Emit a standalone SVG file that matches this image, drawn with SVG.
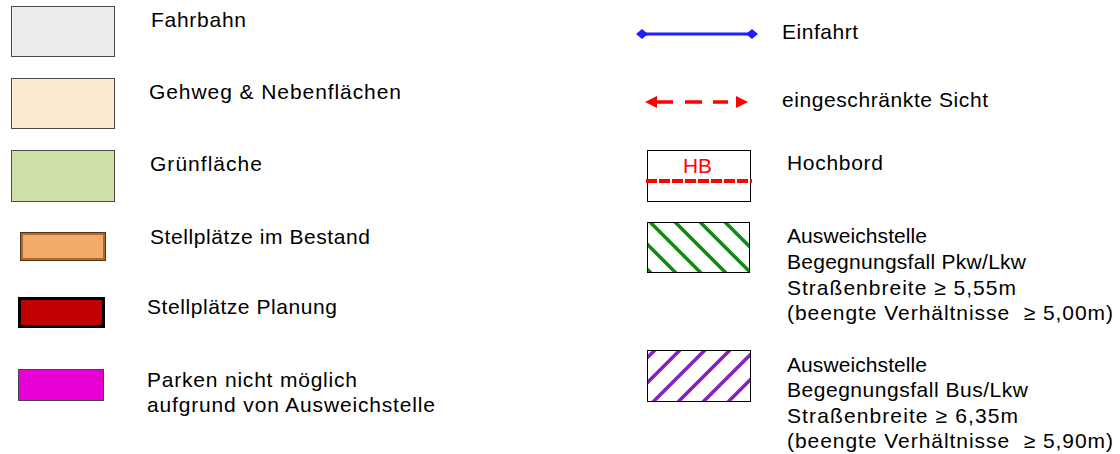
<svg xmlns="http://www.w3.org/2000/svg" width="1120" height="454" viewBox="0 0 1120 454">
<style>
text{font-family:"Liberation Sans",Arial,sans-serif;font-size:21px;fill:#000;white-space:pre}
.box{stroke:#4a4a4a;stroke-width:1}
.hatchG{stroke:#118a11;stroke-width:3.5;fill:none}
.hatchP{stroke:#8420c0;stroke-width:3.5;fill:none}
</style>
<defs>
<clipPath id="clipG"><rect x="647" y="222" width="103" height="51"/></clipPath>
<clipPath id="clipP"><rect x="647" y="350" width="104" height="52"/></clipPath>
</defs>
<rect width="1120" height="454" fill="#fff"/>

<g id="fahrbahn">
<rect class="box" x="11.5" y="6.5" width="103" height="50" fill="#ececec"/>
<text x="151" y="27" textLength="95" lengthAdjust="spacing">Fahrbahn</text>
</g>
<g id="gehweg">
<rect class="box" x="11.5" y="78.5" width="103" height="50" fill="#fbe9d2"/>
<text x="149" y="99" textLength="252" lengthAdjust="spacing">Gehweg &amp; Nebenflächen</text>
</g>
<g id="gruenflaeche">
<rect class="box" x="11.5" y="150.5" width="103" height="51" fill="#cfe1a8"/>
<text x="150" y="171" textLength="112" lengthAdjust="spacing">Grünfläche</text>
</g>
<g id="stellplaetze-bestand">
<rect x="20.5" y="232.5" width="85" height="28" fill="#f2ab68" stroke="#4f3519" stroke-width="1"/>
<rect x="22" y="234" width="82" height="25" fill="none" stroke="#b0692c" stroke-width="2"/>
<text x="150" y="244" textLength="220" lengthAdjust="spacing">Stellplätze im Bestand</text>
</g>
<g id="stellplaetze-planung">
<rect x="19.5" y="298.5" width="84" height="28" fill="#c00000" stroke="#000" stroke-width="3"/>
<text x="147" y="314" textLength="190" lengthAdjust="spacing">Stellplätze Planung</text>
</g>
<g id="parken-nicht-moeglich">
<rect x="18.5" y="369.5" width="85" height="31" fill="#e600d6" stroke="#444" stroke-width="1"/>
<text x="147" y="387" textLength="210" lengthAdjust="spacing">Parken nicht möglich</text>
<text x="147" y="412" textLength="288" lengthAdjust="spacing">aufgrund von Ausweichstelle</text>
</g>

<g id="einfahrt">
<line x1="645" y1="34" x2="749" y2="34" stroke="#1e1eff" stroke-width="3"/>
<polygon points="636,34 642,29 648,34 642,39" fill="#1e1eff"/>
<polygon points="746,34 752,29 758,34 752,39" fill="#1e1eff"/>
<text x="782" y="39" textLength="76" lengthAdjust="spacing">Einfahrt</text>
</g>
<g id="eingeschraenkte-sicht">
<path d="M655 102H673M685 102H702M713 102H728" stroke="#ff0000" stroke-width="3.5" fill="none"/>
<polygon points="645,102 657,96 657,108" fill="#ff0000"/>
<polygon points="748,102 736,96 736,108" fill="#ff0000"/>
<text x="782" y="107" textLength="206" lengthAdjust="spacing">eingeschränkte Sicht</text>
</g>
<g id="hochbord">
<rect x="647.5" y="150.5" width="103" height="51" fill="#fff" stroke="#000" stroke-width="1"/>
<line x1="646" y1="181" x2="752" y2="181" stroke="#ff0000" stroke-width="4" stroke-dasharray="11 2"/>
<text x="683" y="173" style="fill:#ff0000;font-size:21px" textLength="29" lengthAdjust="spacingAndGlyphs">HB</text>
<text x="787" y="170" textLength="96" lengthAdjust="spacing">Hochbord</text>
</g>
<g id="ausweichstelle-pkw-lkw">
<g clip-path="url(#clipG)" class="hatchG">
<path d="M600 222l51 51M625 222l51 51M650 222l51 51M675 222l51 51M700 222l51 51M725 222l51 51M750 222l51 51"/>
</g>
<rect x="647.5" y="222.5" width="102" height="50" fill="none" stroke="#000" stroke-width="1"/>
<text x="787" y="243" textLength="140" lengthAdjust="spacing">Ausweichstelle</text>
<text x="787" y="269" textLength="239" lengthAdjust="spacing">Begegnungsfall Pkw/Lkw</text>
<text x="787" y="295" textLength="229" lengthAdjust="spacing">Straßenbreite ≥ 5,55m</text>
<text x="787" y="320" textLength="326" lengthAdjust="spacing">(beengte Verhältnisse  ≥ 5,00m)</text>
</g>
<g id="ausweichstelle-bus-lkw">
<g clip-path="url(#clipP)" class="hatchP">
<path d="M655 350l-52 52M680 350l-52 52M705 350l-52 52M730 350l-52 52M755 350l-52 52M780 350l-52 52M805 350l-52 52"/>
</g>
<rect x="647.5" y="350.5" width="103" height="51" fill="none" stroke="#000" stroke-width="1"/>
<text x="787" y="372" textLength="140" lengthAdjust="spacing">Ausweichstelle</text>
<text x="787" y="397" textLength="241" lengthAdjust="spacing">Begegnungsfall Bus/Lkw</text>
<text x="787" y="423" textLength="231" lengthAdjust="spacing">Straßenbreite ≥ 6,35m</text>
<text x="787" y="448" textLength="326" lengthAdjust="spacing">(beengte Verhältnisse  ≥ 5,90m)</text>
</g>
</svg>
